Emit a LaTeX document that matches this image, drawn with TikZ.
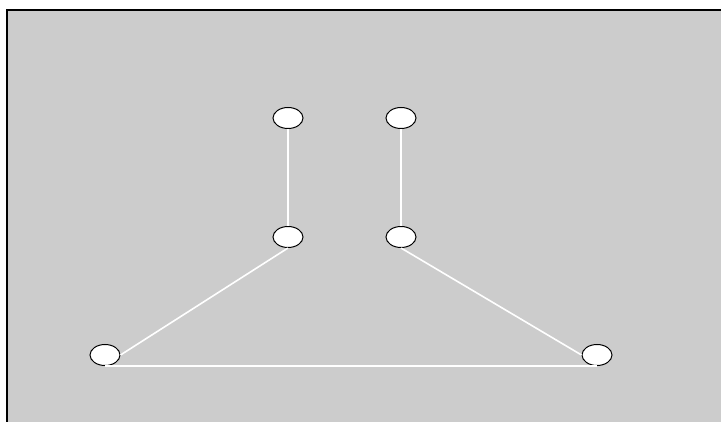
\documentclass[tikz,border=0pt]{standalone}
\usetikzlibrary{shapes.geometric}
\definecolor{bggray}{HTML}{CCCCCC}
\tikzset{
  vert/.style={ellipse, draw=black, fill=white, line width=1pt, minimum width=30pt, minimum height=21pt, inner sep=0pt},
  link/.style={draw=white, line width=1.6pt}
}
\begin{document}
\begin{tikzpicture}[x=1pt,y=-1pt]
\useasboundingbox (0,0) rectangle (721,422);
\fill[white] (0,0) rectangle (721,422);
\fill[bggray] (7,10) rectangle (721,422);
\draw[black, line width=1.5pt] (7,422) -- (7,10) -- (721,10);
\node[vert] (tl) at (288,118) {};
\node[vert] (tr) at (401,118) {};
\node[vert] (ml) at (288,237) {};
\node[vert] (mr) at (401,237) {};
\node[vert] (bl) at (105,355) {};
\node[vert] (br) at (597,355) {};
\draw[link] (tl) -- (ml);
\draw[link] (tr) -- (mr);
\draw[link] (ml.south) -- (bl.east);
\draw[link] (mr.south) -- (br.west);
\draw[link] (bl.south) -- (br.south);
\end{tikzpicture}
\end{document}
